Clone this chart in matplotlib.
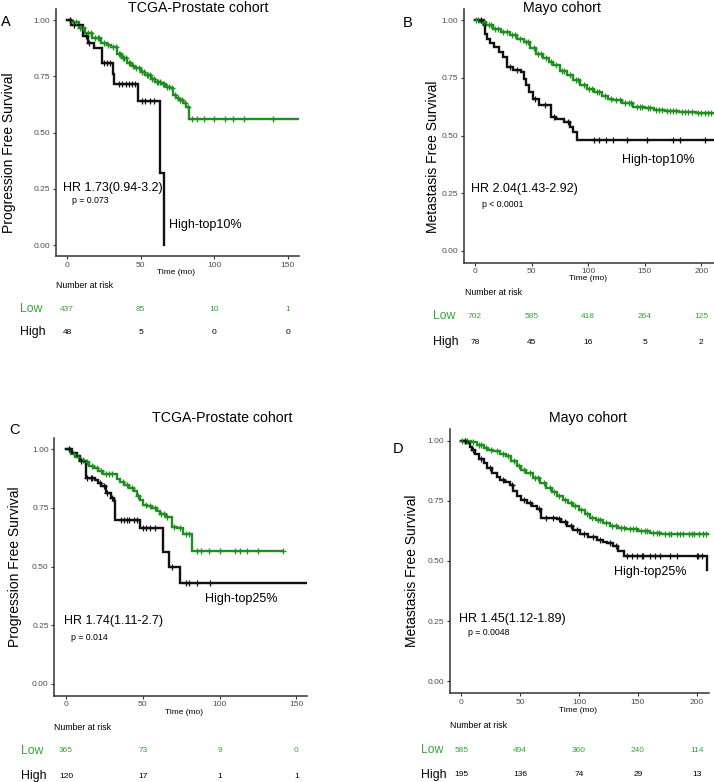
import matplotlib
matplotlib.use("Agg")
import matplotlib.pyplot as plt
import matplotlib.transforms as mtransforms
import numpy as np

plt.rcParams['font.family'] = ['Liberation Sans', 'DejaVu Sans']

# ---------------- data ----------------
# Panel A: TCGA-Prostate, high = top 10%
a_high_t = [0, 3, 11, 14, 18, 24, 31, 32, 48, 63, 66]
a_high_s = [1.0, 0.98, 0.93, 0.90, 0.875, 0.81, 0.76, 0.716, 0.64, 0.318, 0.0]
a_high_c = [2, 5, 13, 15, 25, 27, 29, 35, 37, 40, 42, 44, 46, 51, 53, 56, 59]
a_high_end = 66
a_low_t = [0, 3, 8, 12, 17, 23, 27, 30, 34, 37, 41, 44, 46, 50, 53, 57, 60, 64, 67, 70, 72, 74, 76, 79, 81, 83]
a_low_s = [1.0, 0.99, 0.965, 0.941, 0.92, 0.896, 0.888, 0.881, 0.85, 0.829, 0.807, 0.795, 0.785, 0.77, 0.756, 0.74, 0.726, 0.715, 0.704, 0.696, 0.667, 0.655, 0.644, 0.63, 0.615, 0.56]
a_low_c = [2, 4, 6, 9, 11, 14, 16, 19, 21, 22, 25, 28, 31, 33, 35, 36, 38, 39, 40, 42, 43, 45, 47, 49, 51,
           52, 54, 55, 56, 58, 59, 61, 62, 63, 65, 66, 68, 69, 71, 73, 75, 77, 78, 80, 82, 85, 88, 93, 100, 107, 113, 120, 140]
a_low_end = 157
a_risk_times = [0, 50, 100, 150]
a_risk_low = [437, 85, 10, 1]
a_risk_high = [48, 5, 0, 0]

# Panel B: Mayo, high = top 10%
b_high_t = [0, 8, 9, 11, 13, 17, 21, 25, 28, 34, 41, 43, 45, 48, 51, 57, 67, 72, 79, 84, 87, 90]
b_high_s = [1.0, 0.98, 0.94, 0.92, 0.90, 0.883, 0.862, 0.84, 0.797, 0.785, 0.775, 0.746, 0.717, 0.688, 0.66, 0.631, 0.581, 0.573, 0.559, 0.537, 0.516, 0.482]
b_high_c = [5, 31, 37, 53, 62, 70, 82, 105, 110, 116, 122, 134, 152, 175, 181, 203]
b_high_end = 211
b_low_t = [0, 4, 10, 16, 23, 31, 37, 43, 49, 54, 60, 65, 69, 75, 81, 87, 93, 99, 105, 112, 118, 122, 130, 140, 150, 158, 168, 180, 195]
b_low_s = [1.0, 0.99, 0.977, 0.963, 0.95, 0.934, 0.92, 0.905, 0.88, 0.855, 0.835, 0.818, 0.804, 0.78, 0.76, 0.739, 0.72, 0.702, 0.688, 0.672, 0.66, 0.653, 0.64, 0.625, 0.617, 0.609, 0.605, 0.60, 0.597]
b_low_c = [1, 3, 6, 8, 12, 14, 18, 20, 25, 28, 33, 35, 40, 45, 47, 52, 56, 58, 63, 67, 72, 77, 79, 84, 89, 91,
           96, 101, 103, 108, 110, 115, 120, 125, 128, 133, 136, 138, 143, 146, 148, 153, 155, 160, 163, 165,
           170, 172, 175, 178, 183, 186, 188, 192, 197, 200, 203, 206, 209]
b_low_end = 211
b_risk_times = [0, 50, 100, 150, 200]
b_risk_low = [702, 585, 418, 264, 125]
b_risk_high = [78, 45, 16, 5, 2]

# Panel C: TCGA-Prostate, high = top 25%
c_high_t = [0, 4, 7, 9, 13, 19, 21, 23, 26, 29, 31, 32, 48, 63, 67, 74]
c_high_s = [1.0, 0.985, 0.97, 0.95, 0.878, 0.87, 0.857, 0.842, 0.815, 0.793, 0.779, 0.698, 0.665, 0.562, 0.50, 0.4285]
c_high_c = [2, 10, 14, 16, 17, 22, 25, 27, 30, 36, 38, 40, 41, 44, 46, 50, 52, 55, 58, 69, 78, 80, 85, 94]
c_high_end = 156
c_low_t = [0, 3, 6, 9, 12, 15, 18, 21, 24, 33, 35, 38, 41, 44, 46, 48, 50, 53, 56, 59, 61, 65, 69, 72, 76, 82]
c_low_s = [1.0, 0.98, 0.965, 0.955, 0.945, 0.93, 0.92, 0.906, 0.893, 0.875, 0.86, 0.848, 0.835, 0.82, 0.80, 0.785, 0.764, 0.757, 0.75, 0.735, 0.722, 0.712, 0.67, 0.665, 0.637, 0.566]
c_low_c = [2, 5, 8, 11, 14, 17, 20, 23, 26, 28, 30, 37, 40, 43, 47, 52, 55, 58, 62, 64, 66, 70, 74, 78, 80,
           85, 88, 93, 100, 110, 113, 118, 125, 141]
c_low_end = 141
c_risk_times = [0, 50, 100, 150]
c_risk_low = [365, 73, 9, 0]
c_risk_high = [120, 17, 1, 1]

# Panel D: Mayo, high = top 25%
d_high_t = [0, 4, 7, 9, 12, 15, 19, 22, 26, 30, 33, 37, 41, 44, 47, 51, 56, 60, 64, 68, 75, 81, 85, 90, 95, 101, 108, 115, 120, 124, 129, 133, 138, 209]
d_high_s = [1.0, 0.99, 0.975, 0.96, 0.945, 0.925, 0.905, 0.885, 0.866, 0.85, 0.838, 0.83, 0.817, 0.79, 0.769, 0.755, 0.741, 0.728, 0.714, 0.68, 0.677, 0.673, 0.66, 0.645, 0.63, 0.61, 0.60, 0.589, 0.58, 0.575, 0.562, 0.541, 0.52, 0.462]
d_high_c = [3, 10, 17, 24, 35, 43, 53, 58, 66, 72, 78, 83, 88, 93, 98, 104, 112, 118, 126, 131,
            140.5, 144.8, 149, 153.2, 154.7, 160.3, 164.6, 168.8, 177.3, 183, 200, 201.4, 204.2]
d_high_end = 209
d_low_t = [0, 8, 13, 19, 23, 27, 33, 38, 42, 47, 51, 55, 61, 67, 72, 77, 81, 86, 91, 95, 100, 105, 109, 114, 120, 126, 133, 140, 150, 160, 170]
d_low_s = [1.0, 0.993, 0.98, 0.97, 0.963, 0.956, 0.945, 0.935, 0.915, 0.894, 0.88, 0.866, 0.845, 0.824, 0.805, 0.787, 0.769, 0.755, 0.74, 0.727, 0.71, 0.695, 0.68, 0.67, 0.657, 0.645, 0.638, 0.631, 0.624, 0.617, 0.61]
d_low_c = [1, 3, 5, 10, 15, 17, 21, 25, 30, 35, 40, 45, 49, 53, 58, 63, 65, 70, 75, 79, 83, 88, 93, 97,
           102, 107, 111, 116, 118, 123, 128, 131, 136, 138, 143, 146, 148, 153, 156, 158, 163, 166, 168,
           173, 176, 178, 183, 186, 188, 193, 196, 198, 202, 205, 208]
d_low_end = 210
d_risk_times = [0, 50, 100, 150, 200]
d_risk_low = [585, 494, 360, 240, 114]
d_risk_high = [195, 136, 74, 29, 13]

yticks = [0.0, 0.25, 0.5, 0.75, 1.0]
ytick_labels = ["0.00", "0.25", "0.50", "0.75", "1.00"]

# ---------------- styling ----------------
W, H = 714, 782
GREEN = '#1f8f1f'
GREEN_TXT = '#34a834'
BLACK = '#111111'
AX_COL = '#333333'
TICK_TXT = '#4d4d4d'

fig = plt.figure(figsize=(W / 100, H / 100), dpi=100)


def fx(px):
    return px / W


def fy(py):
    return 1 - py / H


def make_ax(l, r, t, b, xlim, xticks):
    ax = fig.add_axes([fx(l), fy(b), fx(r) - fx(l), (b - t) / H])
    ax.set_xlim(*xlim)
    ax.set_ylim(-0.05, 1.05)
    for s in ['top', 'right']:
        ax.spines[s].set_visible(False)
    for s in ['left', 'bottom']:
        ax.spines[s].set_color(AX_COL)
        ax.spines[s].set_linewidth(1.1)
    ax.set_yticks(yticks)
    ax.set_yticklabels(ytick_labels)
    ax.set_xticks(xticks)
    ax.tick_params(axis='both', labelsize=6, labelcolor=TICK_TXT, color=AX_COL,
                   length=2.5, width=0.8, pad=1.5)
    ax.patch.set_alpha(0)
    return ax


def step_value(t, s, x):
    idx = np.searchsorted(np.asarray(t), x, side='right') - 1
    return np.asarray(s)[idx]


def km(ax, t, s, cens, end, color, lw=1.7):
    tt = list(t) + [end]
    ss = list(s) + [s[-1]]
    ax.step(tt, ss, where='post', color=color, lw=lw, solid_joinstyle='miter', zorder=3)
    cy = [step_value(t, s, c) for c in cens]
    ax.plot(cens, cy, linestyle='none', marker='+', ms=4, mew=0.9, color=color, zorder=4)


def panel(ax, letter, letter_xy, title, title_xy, ylabel, ylabel_xy, timelab_xy, nar_xy,
          lowhigh_x, low_y, high_y, rt, rlow, rhigh, hr, hr_xy, p, p_xy, hightxt, high_xy):
    fig.text(fx(letter_xy[0]), fy(letter_xy[1]), letter, fontsize=10.5, ha='center', va='center')
    fig.text(fx(title_xy[0]), fy(title_xy[1]), title, fontsize=10.2, ha='center', va='center')
    fig.text(fx(ylabel_xy[0]), fy(ylabel_xy[1]), ylabel, fontsize=10, rotation=90,
             ha='center', va='center')
    fig.text(fx(timelab_xy[0]), fy(timelab_xy[1]), "Time (mo)", fontsize=6, ha='center', va='center')
    fig.text(fx(nar_xy[0]), fy(nar_xy[1]), "Number at risk", fontsize=6.3, ha='left', va='center')
    fig.text(fx(lowhigh_x), fy(low_y), "Low", fontsize=8.8, color=GREEN_TXT, ha='left', va='center')
    fig.text(fx(lowhigh_x), fy(high_y), "High", fontsize=8.8, color='black', ha='left', va='center')
    tr = mtransforms.blended_transform_factory(ax.transData, fig.transFigure)
    for x, lo, hi in zip(rt, rlow, rhigh):
        ax.text(x, fy(low_y), str(lo), transform=tr, fontsize=6, color=GREEN_TXT,
                ha='center', va='center', clip_on=False)
        ax.text(x, fy(high_y), str(hi), transform=tr, fontsize=6, color='black',
                ha='center', va='center', clip_on=False)
    ax.text(hr_xy[0], hr_xy[1], hr, fontsize=9, ha='left', va='center')
    ax.text(p_xy[0], p_xy[1], p, fontsize=6.3, ha='left', va='center')
    ax.text(high_xy[0], high_xy[1], hightxt, fontsize=9, ha='left', va='center')


# ---------------- Panel A ----------------
axA = make_ax(56, 299, 8.75, 256.25, (-7.5, 157.5), [0, 50, 100, 150])
km(axA, a_low_t, a_low_s, a_low_c, a_low_end, GREEN)
km(axA, a_high_t, a_high_s, a_high_c, a_high_end, BLACK)
panel(axA, "A", (6, 22), "TCGA-Prostate cohort", (198, 8), "Progression Free Survival", (9, 153),
      (176, 273), (56, 286), 20, 309, 332, a_risk_times, a_risk_low, a_risk_high,
      "HR 1.73(0.94-3.2)", (-2.5, 0.255), "p = 0.073", (3.2, 0.196), "High-top10%", (68.9, 0.089))

# ---------------- Panel B ----------------
axB = make_ax(464, 713.5, 8.5, 262.5, (-9.7, 210.8), [0, 50, 100, 150, 200])
km(axB, b_low_t, b_low_s, b_low_c, b_low_end, GREEN)
km(axB, b_high_t, b_high_s, b_high_c, b_high_end, BLACK)
panel(axB, "B", (408, 23), "Mayo cohort", (562, 8), "Metastasis Free Survival", (433, 157),
      (588, 278), (465, 293), 433, 316, 342, b_risk_times, b_risk_low, b_risk_high,
      "HR 2.04(1.43-2.92)", (-3.5, 0.27), "p < 0.0001", (5.9, 0.202), "High-top10%", (130, 0.393))

# ---------------- Panel C ----------------
axC = make_ax(54.3, 306.7, 437.5, 695.7, (-7.6, 156.7), [0, 50, 100, 150])
km(axC, c_low_t, c_low_s, c_low_c, c_low_end, GREEN)
km(axC, c_high_t, c_high_s, c_high_c, c_high_end, BLACK)
panel(axC, "C", (14, 430), "TCGA-Prostate cohort", (222, 418), "Progression Free Survival", (15, 567),
      (184, 713), (54, 727), 21, 751, 776, c_risk_times, c_risk_low, c_risk_high,
      "HR 1.74(1.11-2.7)", (-1.3, 0.268), "p = 0.014", (3.3, 0.197), "High-top25%", (90.5, 0.36))

# ---------------- Panel D ----------------
axD = make_ax(450, 709, 428.6, 693.3, (-9.6, 210.4), [0, 50, 100, 150, 200])
km(axD, d_low_t, d_low_s, d_low_c, d_low_end, GREEN)
km(axD, d_high_t, d_high_s, d_high_c, d_high_end, BLACK)
panel(axD, "D", (398, 449), "Mayo cohort", (588, 418), "Metastasis Free Survival", (412, 571),
      (578, 711), (450, 726), 421, 750, 775, d_risk_times, d_risk_low, d_risk_high,
      "HR 1.45(1.12-1.89)", (-2, 0.26), "p = 0.0048", (5.4, 0.202), "High-top25%", (129.7, 0.455))

fig.savefig("out.png", dpi=100)
